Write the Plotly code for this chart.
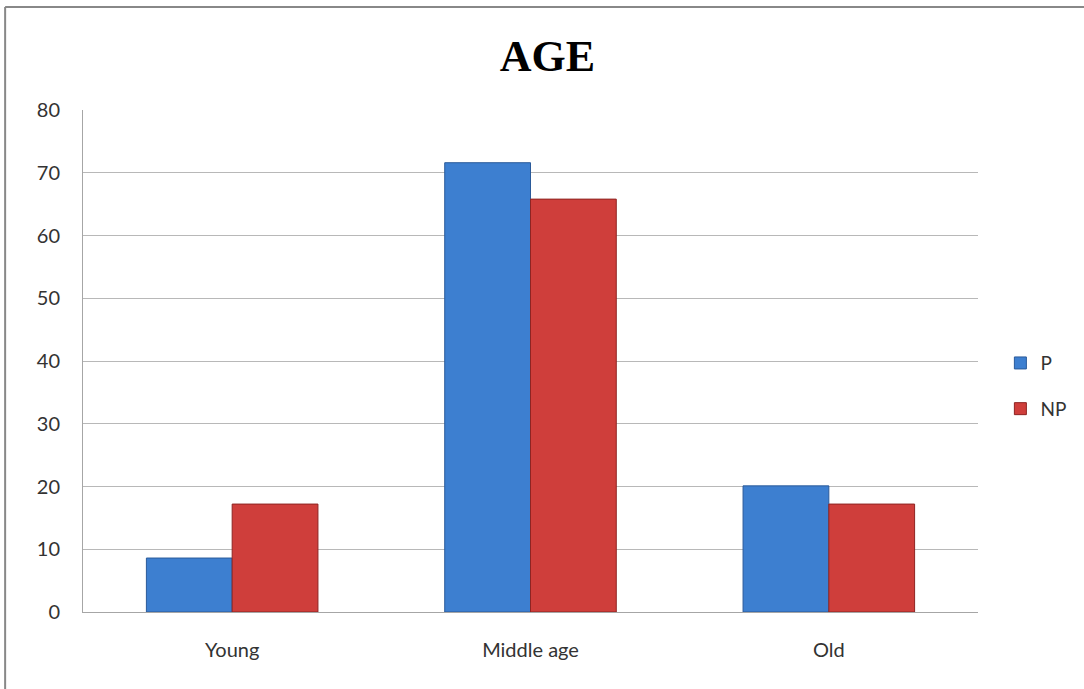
import plotly.graph_objects as go

categories = ["Young", "Middle age", "Old"]
p_values = [8.6, 71.6, 20.1]
np_values = [17.2, 65.8, 17.2]
y_ticks = [0, 10, 20, 30, 40, 50, 60, 70, 80]

fig = go.Figure()
fig.add_trace(go.Bar(
    name="P", x=categories, y=p_values, legendgroup="p",
    marker=dict(color="#3d7fd0", line=dict(color="#2a5a9a", width=1)),
))
fig.add_trace(go.Bar(
    name="NP", x=categories, y=np_values, legendgroup="np",
    marker=dict(color="#cf3e3b", line=dict(color="#8e2422", width=1)),
))

axis_gray = "#a6a6a6"
tick_font = dict(family="Lato", size=20, color="#333")
fig.update_layout(
    width=1084, height=689,
    margin=dict(l=83, r=106, t=110, b=77),
    paper_bgcolor="white", plot_bgcolor="white",
    barmode="group", bargap=0.425, bargroupgap=0,
    title=dict(text="<b>AGE</b>", x=0.505, xanchor="center", y=0.92, yanchor="middle",
               font=dict(family="Liberation Serif", size=44, color="black")),
    showlegend=True,
    legend=dict(x=1.025, y=0.45, xanchor="left", yanchor="middle",
                font=dict(family="Lato", size=19, color="#333"),
                itemwidth=30, tracegroupgap=18),
    xaxis=dict(showline=True, linecolor=axis_gray, linewidth=1, ticks="",
               tickfont=tick_font, ticklabelstandoff=20),
    yaxis=dict(range=[0, 80], tickvals=y_ticks, showgrid=True, gridcolor="#b8b8b8",
               gridwidth=1, showline=True, linecolor=axis_gray, linewidth=1,
               ticks="", zeroline=False,
               tickfont=tick_font, ticklabelstandoff=18),
)

# outer chart frame (left and top edges)
fig.add_shape(type="line", xref="paper", yref="paper", x0=-0.087, x1=-0.087, y0=1.205, y1=-0.2,
              line=dict(color="#888888", width=2))
fig.add_shape(type="line", xref="paper", yref="paper", x0=-0.087, x1=1.2, y0=1.205, y1=1.205,
              line=dict(color="#888888", width=2))

fig.write_html("out.html")
